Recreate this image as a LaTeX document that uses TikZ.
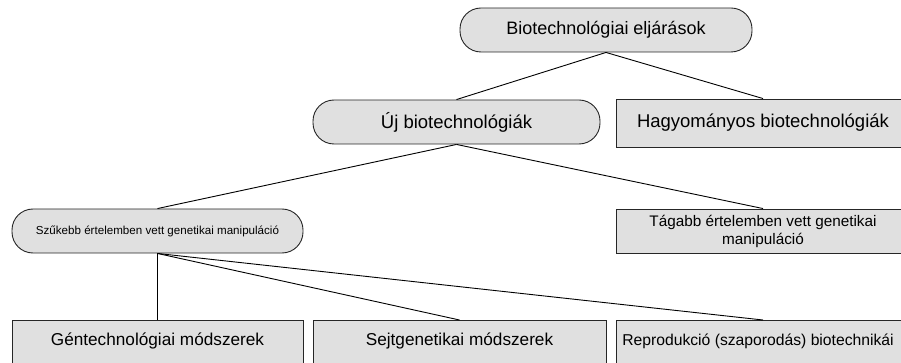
\documentclass[tikz,border=0pt]{standalone}
\usepackage{fontspec}
\setmainfont{Liberation Sans}
\begin{document}
\begin{tikzpicture}[x=1pt,y=-1pt,
  box/.style={draw=black!85, line width=0.9pt, fill=black!12, inner sep=0pt, align=center, text=black},
  pill/.style={box, rounded corners=21pt},
  link/.style={draw=black, line width=0.9pt}]
\useasboundingbox (0,0) rectangle (901,363);
\clip (0,0) rectangle (901,363);
\node[pill, minimum width=292pt, minimum height=44pt, font=\fontsize{18}{21}\selectfont] (top) at (606,30) {Biotechnológiai eljárások};
\node[pill, minimum width=287pt, minimum height=44pt, font=\fontsize{18.5}{21}\selectfont] (uj) at (456.5,122) {Új biotechnológiák};
\node[box, minimum width=294pt, minimum height=48pt, font=\fontsize{18.5}{21}\selectfont] (hagy) at (763,123) {Hagyományos biotechnológiák};
\node[pill, minimum width=291pt, minimum height=44pt, font=\fontsize{11.6}{13}\selectfont] (szuk) at (157.5,231) {Szűkebb értelemben vett genetikai manipuláció};
\node[box, minimum width=294pt, minimum height=44pt, font=\fontsize{15.3}{18}\selectfont] (tag) at (763,231) {Tágabb értelemben vett genetikai\\manipuláció};
\node[box, minimum width=291pt, minimum height=56pt, anchor=north] (gen) at (157.5,320) {};
\node[box, minimum width=293pt, minimum height=56pt, anchor=north] (sejt) at (459.5,320) {};
\node[box, minimum width=294pt, minimum height=56pt, anchor=north] (repr) at (763,320) {};
\node[font=\fontsize{17.2}{19}\selectfont] at (157.5,341) {Géntechnológiai módszerek};
\node[font=\fontsize{17.2}{19}\selectfont] at (459.5,341) {Sejtgenetikai módszerek};
\node[font=\fontsize{15.7}{18}\selectfont] at (758,341) {Reprodukció (szaporodás) biotechnikái};
\draw[link] (top.south) -- (uj.north);
\draw[link] (top.south) -- (hagy.north);
\draw[link] (uj.south) -- (szuk.north);
\draw[link] (uj.south) -- (tag.north);
\draw[link] (szuk.south) -- (gen.north);
\draw[link] (szuk.south) -- (sejt.north);
\draw[link] (szuk.south) -- (repr.north);
\end{tikzpicture}
\end{document}
